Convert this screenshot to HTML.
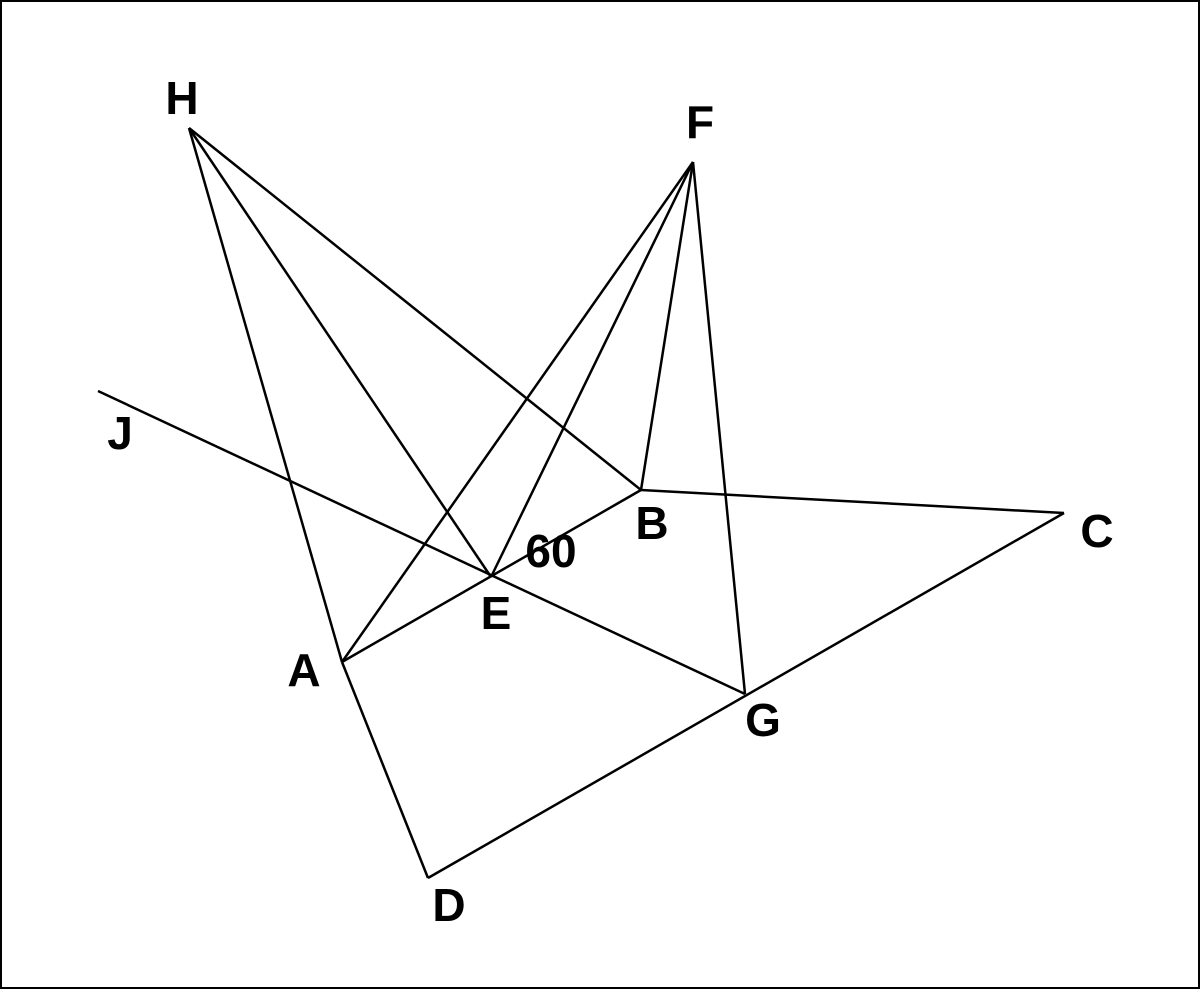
<!DOCTYPE html>
<html><head><style>
html,body{margin:0;padding:0;background:#fff;}
svg{display:block;}
text{font-family:"Liberation Sans",Arial,sans-serif;font-weight:bold;font-size:46px;fill:#000;text-anchor:middle;dominant-baseline:central;}
</style></head><body>
<svg width="1200" height="989" viewBox="0 0 1200 989" xmlns="http://www.w3.org/2000/svg">
<rect x="1" y="1" width="1198" height="987" fill="#fff" stroke="#000" stroke-width="2"/>
<g stroke="#000" stroke-width="2.5" fill="none">
<line x1="189" y1="128" x2="342" y2="662"/>
<line x1="189" y1="128" x2="491" y2="577"/>
<line x1="189" y1="128" x2="641" y2="490"/>
<line x1="693" y1="162" x2="342" y2="662"/>
<line x1="693" y1="162" x2="491" y2="577"/>
<line x1="693" y1="162" x2="641" y2="490"/>
<line x1="693" y1="162" x2="745" y2="694"/>
<line x1="98" y1="391" x2="745" y2="694"/>
<line x1="342" y1="662" x2="641" y2="490"/>
<line x1="641" y1="490" x2="1064" y2="513"/>
<line x1="1064" y1="513" x2="428" y2="878"/>
<line x1="342" y1="662" x2="428" y2="878"/>
</g>
<text x="182" y="98">H</text>
<text x="700" y="122">F</text>
<text x="120" y="433">J</text>
<text x="652" y="523">B</text>
<text x="1097" y="531">C</text>
<text x="496" y="613">E</text>
<text x="304" y="670">A</text>
<text x="763" y="720">G</text>
<text x="449" y="905">D</text>
<text x="551" y="551">60</text>
</svg>
</body></html>
